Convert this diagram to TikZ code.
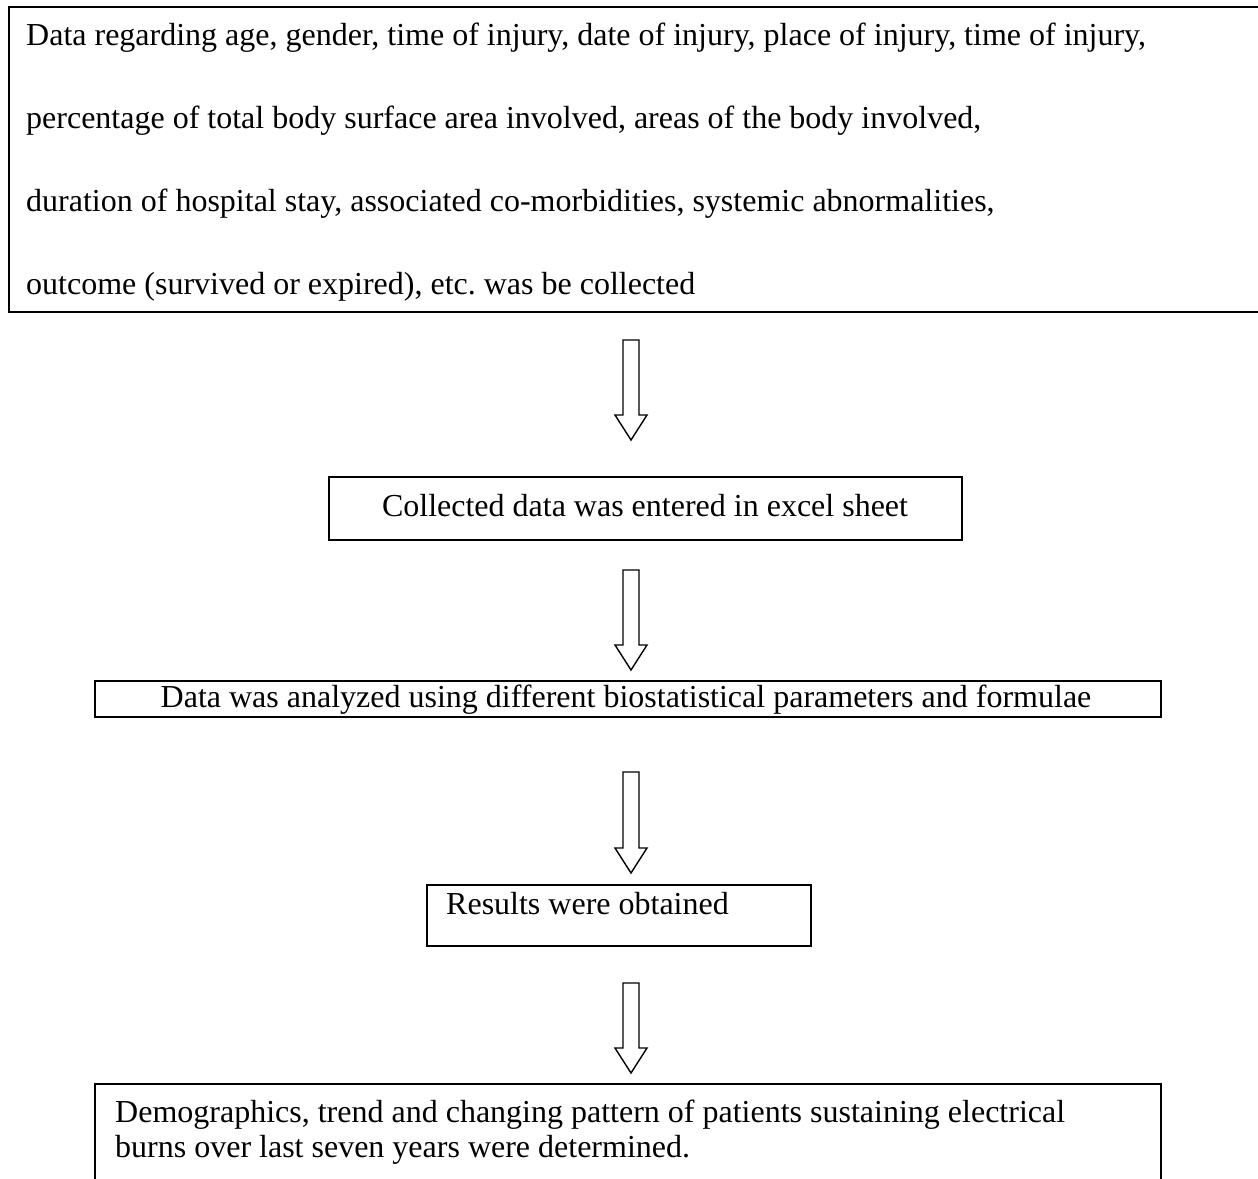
\documentclass[tikz,border=0pt]{standalone}
\usepackage{fontspec}
\setmainfont{Liberation Serif}
\begin{document}
\begin{tikzpicture}[x=1pt,y=-1pt,
  box/.style={draw, line width=1.5pt, inner sep=0pt, anchor=north west},
  txt/.style={inner sep=0pt, font=\fontsize{32}{36}\selectfont},
  barrow/.style={draw, line width=1.4pt, line join=miter, fill=white}]
\useasboundingbox (0,0) rectangle (1258,1178);
% boxes
\node[box, minimum width=1270pt, minimum height=305pt] (b1) at (8,6) {};
\node[box, minimum width=633pt, minimum height=63pt] (b2) at (328,476) {};
\node[box, minimum width=1066pt, minimum height=36pt] (b3) at (94,680) {};
\node[box, minimum width=384pt, minimum height=61pt] (b4) at (426,884) {};
\node[box, minimum width=1066pt, minimum height=120pt] (b5) at (94,1083) {};
% texts
\node[txt, anchor=base west] (t1a) at (26,45) {Data regarding age, gender, time of injury, date of injury, place of injury, time of injury,};
\node[txt, anchor=base west] (t1b) at (26,128) {percentage of total body surface area involved, areas of the body involved,};
\node[txt, anchor=base west] (t1c) at (26,211) {duration of hospital stay, associated co-morbidities, systemic abnormalities,};
\node[txt, anchor=base west] (t1d) at (26,294) {outcome (survived or expired), etc.\ was be collected};
\node[txt, anchor=base] (t2) at (645,516) {Collected data was entered in excel sheet};
\node[txt, anchor=base] (t3) at (626,707) {Data was analyzed using different biostatistical parameters and formulae};
\node[txt, anchor=base west] (t4) at (446,914) {Results were obtained};
\node[txt, anchor=base west] (t5a) at (115,1122) {Demographics, trend and changing pattern of patients sustaining electrical};
\node[txt, anchor=base west] (t5b) at (115,1157) {burns over last seven years were determined.};
% block arrows
\coordinate (a1s) at (631,340); \coordinate (a1t) at (631,440);
\coordinate (a2s) at (631,570); \coordinate (a2t) at (631,670);
\coordinate (a3s) at (631,772); \coordinate (a3t) at (631,873);
\coordinate (a4s) at (631,983); \coordinate (a4t) at (631,1073);
\foreach \s/\t in {a1s/a1t,a2s/a2t,a3s/a3t,a4s/a4t}{
  \draw[barrow] ([xshift=-8pt]\s) -- ([xshift=-8pt,yshift=25pt]\t) -- ([xshift=-16pt,yshift=25pt]\t)
     -- (\t) -- ([xshift=16pt,yshift=25pt]\t) -- ([xshift=8pt,yshift=25pt]\t) -- ([xshift=8pt]\s) -- cycle;
}
\end{tikzpicture}
\end{document}
